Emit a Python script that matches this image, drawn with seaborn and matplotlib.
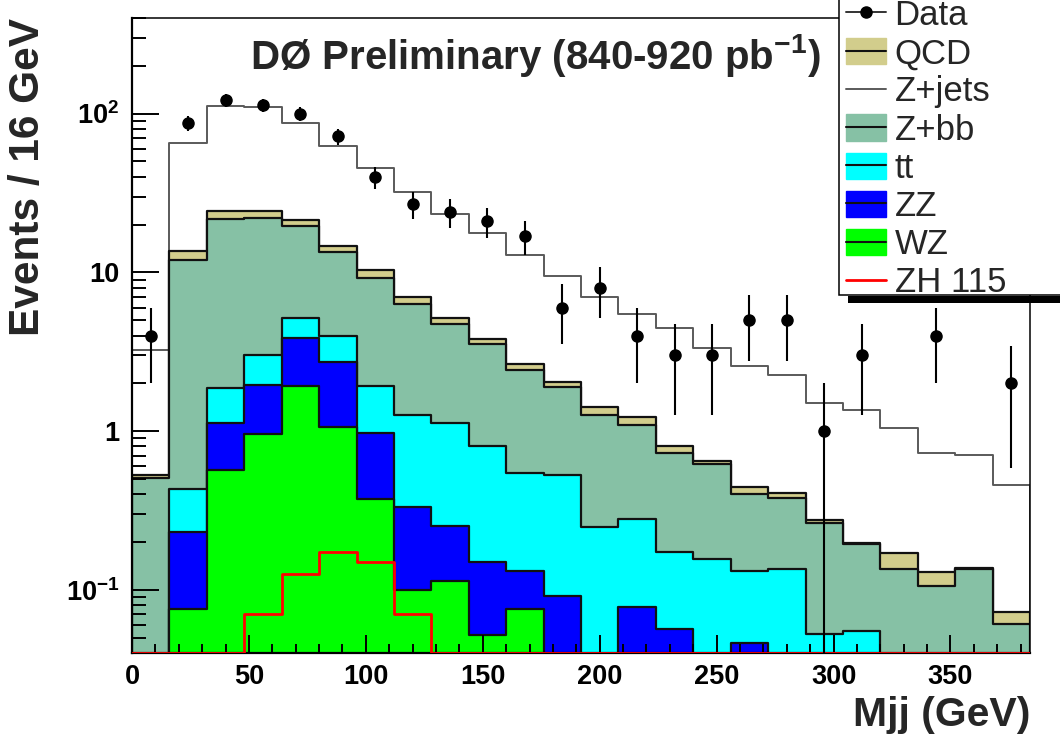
import numpy as np
import pandas as pd
import matplotlib
matplotlib.use("Agg")
import matplotlib.pyplot as plt
import seaborn as sns
from matplotlib.patches import Patch, Rectangle
from matplotlib.lines import Line2D
from matplotlib.legend_handler import HandlerTuple
from matplotlib.ticker import FixedLocator, FixedFormatter, LogLocator, MultipleLocator, NullFormatter

# ---------------- binning ----------------
bin_edges = list(range(0, 385, 16))               # Mjj, 16 GeV bins
bin_centers = 0.5 * (np.array(bin_edges[:-1]) + np.array(bin_edges[1:]))

# ---------------- observed events ----------------
data_events = np.array([4, 87, 121, 113, 100, 72, 40, 27, 24, 21, 17, 6,
                        8, 4, 3, 3, 5, 5, 1, 3, 0, 4, 0, 2])

# ---------------- expected yields (stack order: bottom -> top) ----------------
wz = [0, 0.076, 0.57, 0.96, 1.92, 1.06, 0.376, 0.10, 0.114, 0.052, 0.076, 0,
      0, 0, 0, 0, 0, 0, 0, 0, 0, 0, 0, 0]
zz = [0, 0.157, 0.56, 0.98, 1.95, 1.66, 0.592, 0.234, 0.139, 0.097, 0.056, 0.091,
      0, 0.078, 0.057, 0, 0.046, 0, 0, 0, 0, 0, 0, 0]
ttbar = [0, 0.20, 0.73, 1.09, 1.30, 1.28, 0.95, 0.93, 0.87, 0.656, 0.415, 0.435,
         0.247, 0.201, 0.115, 0.156, 0.086, 0.135, 0.053, 0.055, 0, 0, 0, 0]
zbb = [0.51, 11.57, 19.94, 18.97, 14.33, 9.5, 7.3, 5.09, 3.63, 2.755, 1.893, 1.374,
       1.023, 0.821, 0.552, 0.461, 0.268, 0.246, 0.212, 0.139, 0.136, 0.105, 0.136, 0.061]
qcd = [0.02, 1.55, 2.6, 2.2, 1.9, 1.2, 1.18, 0.65, 0.42, 0.25, 0.21, 0.15,
       0.15, 0.12, 0.081, 0.03, 0.047, 0.025, 0.01, 0.003, 0.034, 0.024, 0.001, 0.011]
zjets = [2.72, 51.75, 86.6, 85.4, 65.9, 48.1, 35.0, 24.9, 18.13, 13.79, 10.15, 7.4,
         5.53, 4.24, 3.675, 2.683, 2.133, 1.864, 1.235, 1.153, 0.87, 0.602, 0.566, 0.383]

# signal expectation (drawn as an overlaid line, not stacked)
zh115 = [0, 0, 0, 0.070, 0.126, 0.172, 0.150, 0.070, 0, 0, 0, 0,
         0, 0, 0, 0, 0, 0, 0, 0, 0, 0, 0, 0]

# ---------------- axis text ----------------
x_ticks = [0, 50, 100, 150, 200, 250, 300, 350]
x_tick_labels = ["0", "50", "100", "150", "200", "250", "300", "350"]
y_ticks = [0.1, 1, 10, 100]
y_tick_labels = [r"$10^{-1}$", "1", "10", r"$10^{2}$"]
legend_labels = ["Data", "QCD", "Z+jets", "Z+bb", "tt", "ZZ", "WZ", "ZH 115"]

# ---------------- style ----------------
sns.set_theme(style="ticks")
plt.rcParams["font.family"] = ["Liberation Sans", "DejaVu Sans"]
plt.rcParams["mathtext.fontset"] = "custom"
plt.rcParams["mathtext.rm"] = "Liberation Sans:bold"
plt.rcParams["mathtext.it"] = "Liberation Sans:bold"
plt.rcParams["mathtext.bf"] = "Liberation Sans:bold"
plt.rcParams["mathtext.sf"] = "Liberation Sans:bold"
plt.rcParams["mathtext.default"] = "rm"

col = {
    "QCD": "#d2cd8c",
    "Z+jets": "#ffffff",
    "Z+bb": "#86c1a5",
    "tt": "#00ffff",
    "ZZ": "#0000ff",
    "WZ": "#00ff00",
    "ZH": "#ff0000",
}

Y_MIN, Y_MAX = 0.04, 400
X_MIN, X_MAX = 0, 384

fig = plt.figure(figsize=(10.6, 7.48), dpi=100)
fig.patch.set_facecolor("white")
ax = fig.add_axes([132 / 1060, 1 - 653 / 748, 898 / 1060, 635 / 748])
ax.set_facecolor("white")

# cumulative stack heights
components = np.vstack([wz, zz, ttbar, zbb, qcd, zjets])
stack_tops = np.cumsum(components, axis=0)
hist_df = pd.DataFrame({
    "mjj": bin_centers,
    "WZ": stack_tops[0],
    "ZZ": stack_tops[1],
    "tt": stack_tops[2],
    "Z+bb": stack_tops[3],
    "QCD": stack_tops[4],
    "Z+jets": stack_tops[5],
    "ZH": np.maximum(np.array(zh115), Y_MIN),   # empty bins rest on the lower edge
})

# draw from the top of the stack downwards so lower layers sit in front
layers = [
    ("Z+jets", "#5a5a5a", 1.4),
    ("QCD", "#111111", 1.6),
    ("Z+bb", "#111111", 1.6),
    ("tt", "#111111", 1.6),
    ("ZZ", "#111111", 1.6),
    ("WZ", "#111111", 1.6),
]
for name, edge, lw in layers:
    sns.histplot(data=hist_df, x="mjj", weights=name, bins=bin_edges,
                 element="step", fill=True, color=col[name], alpha=1.0,
                 edgecolor=edge, linewidth=lw, ax=ax)

# signal line
sns.histplot(data=hist_df, x="mjj", weights="ZH", bins=bin_edges,
             element="step", fill=False, color=col["ZH"], linewidth=2.0, ax=ax,
             zorder=3)

# data with Poisson uncertainties
has_data = data_events > 0
ax.errorbar(bin_centers[has_data], data_events[has_data],
            yerr=np.sqrt(data_events[has_data]), fmt="o", color="black",
            ms=8, elinewidth=1.5, capsize=0, zorder=5)

ax.set_yscale("log")
ax.set_xlim(X_MIN, X_MAX)
ax.set_ylim(Y_MIN, Y_MAX)
ax.set_axisbelow(False)

# ticks
ax.xaxis.set_major_locator(FixedLocator(x_ticks))
ax.xaxis.set_major_formatter(FixedFormatter(x_tick_labels))
ax.xaxis.set_minor_locator(MultipleLocator(10))
ax.yaxis.set_major_locator(FixedLocator(y_ticks))
ax.yaxis.set_major_formatter(FixedFormatter(y_tick_labels))
ax.yaxis.set_minor_locator(LogLocator(base=10, subs=np.arange(2, 10)))
ax.yaxis.set_minor_formatter(NullFormatter())

ax.tick_params(axis="both", which="both", direction="in", top=False, right=False,
               colors="black", width=1.4)
ax.tick_params(axis="x", which="major", length=13, pad=8, labelsize=19.5)
ax.tick_params(axis="x", which="minor", length=6.5)
ax.tick_params(axis="y", which="major", length=19.5, pad=9, labelsize=19.5)
ax.tick_params(axis="y", which="minor", length=10)
for lab in ax.get_xticklabels() + ax.get_yticklabels():
    lab.set_fontweight("bold")

for side in ["left", "bottom"]:
    ax.spines[side].set_linewidth(1.6)
    ax.spines[side].set_color("black")
for side in ["top", "right"]:
    ax.spines[side].set_linewidth(1.1)
    ax.spines[side].set_color("black")

# axis titles
ax.set_xlabel("Mjj (GeV)", fontsize=29.5, fontweight="bold", loc="right")
ax.xaxis.set_label_coords(1.0, -0.068)
ax.set_ylabel("Events / 16 GeV", fontsize=30.5, fontweight="bold", loc="top")
ax.yaxis.set_label_coords(-0.0935, 1.0)

ax.text(0.767, 0.919, r"DØ Preliminary (840-920 pb$^{-1}$)", transform=ax.transAxes,
        fontsize=29, fontweight="bold", ha="right", va="baseline")

# legend box with drop shadow
shadow = Rectangle((848 / 1060, 1 - 303 / 748), 0.3, 7 / 748,
                   transform=fig.transFigure, facecolor="black", edgecolor="none",
                   zorder=6)
frame = Rectangle((839 / 1060, 1 - 295 / 748), 0.3, 0.5,
                  transform=fig.transFigure, facecolor="white", edgecolor="black",
                  linewidth=1.1, zorder=6.5)
fig.add_artist(shadow)
fig.add_artist(frame)

def band(face):
    return (Patch(facecolor=face, edgecolor=face),
            Line2D([], [], color="#111111", lw=1.5))

handles = [
    Line2D([], [], color="#333333", lw=1.4, marker="o", ms=8,
           markerfacecolor="black", markeredgecolor="black"),
    band(col["QCD"]),
    Line2D([], [], color="#5a5a5a", lw=1.4),
    band(col["Z+bb"]),
    band(col["tt"]),
    band(col["ZZ"]),
    band(col["WZ"]),
    Line2D([], [], color=col["ZH"], lw=2.0),
]
leg = fig.legend(handles, legend_labels, loc="upper left",
                 bbox_to_anchor=(846 / 1060, 1 + 1 / 748),
                 bbox_transform=fig.transFigure, frameon=False,
                 fontsize=25, handlelength=1.15, handleheight=0.78,
                 handletextpad=0.25, labelspacing=0.15, borderpad=0.0,
                 borderaxespad=0.0,
                 handler_map={tuple: HandlerTuple(ndivide=1, pad=0)})
leg.set_zorder(8)

fig.savefig("out.png", dpi=100)
